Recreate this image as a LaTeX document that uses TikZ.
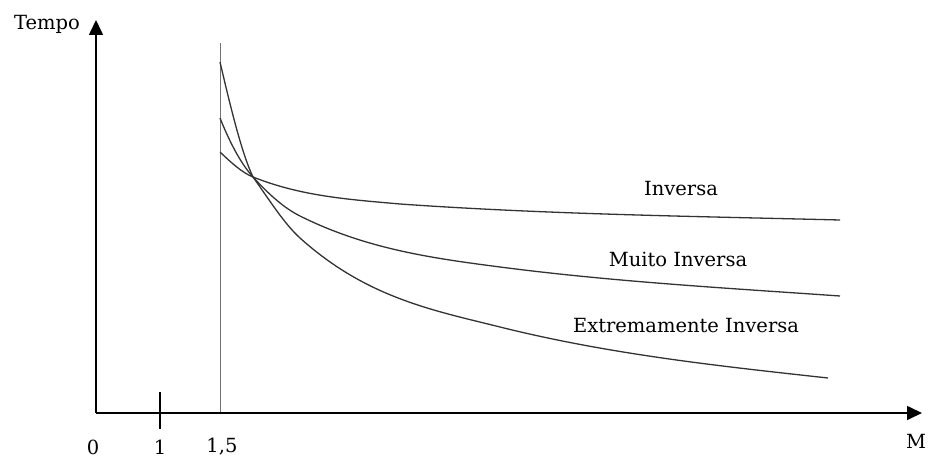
\documentclass[tikz,border=0pt]{standalone}
\usepackage{fontspec}
\setmainfont{DejaVu Serif}
\usetikzlibrary{arrows.meta}
\tikzset{
  axis/.style={line width=1.6pt, black, -{Triangle[length=15pt,width=14pt]}},
  curve/.style={line width=1.3pt, black!80},
  lbl/.style={font=\fontsize{19.5}{22}\selectfont, anchor=base, inner sep=0pt},
}
\begin{document}
\begin{tikzpicture}[x=1pt,y=-1pt]
\useasboundingbox (0,0) rectangle (928,460);
\coordinate (O) at (96,413);
\coordinate (Ytip) at (96,20);
\coordinate (Xtip) at (922,413);
\coordinate (T1a) at (160,392);
\coordinate (T1b) at (160,429);
\coordinate (Va) at (220,413);
\coordinate (Vb) at (220,43);
\draw[line width=1pt, black!55] (Va) -- (Vb);
\draw[axis] (O) -- (Ytip);
\draw[axis] (O) -- (Xtip);
\draw[line width=1.6pt] (T1a) -- (T1b);
% Extremamente Inversa
\coordinate (E0) at (220,62);
\coordinate (E1) at (253,177);
\coordinate (E2) at (300,238);
\coordinate (E3) at (500,327);
\coordinate (E4) at (828,378);
\draw[curve] (E0) .. controls (231,109) and (242,154) .. (E1)
  .. controls (268.7,199) and (284.3,223.9) .. (E2)
  .. controls (366.7,298) and (433.3,310.3) .. (E3)
  .. controls (609.3,354.3) and (718.7,366) .. (E4);
% Muito Inversa
\coordinate (M0) at (220,118);
\coordinate (M1) at (253,177);
\coordinate (M2) at (300,216);
\coordinate (M3) at (500,267);
\coordinate (M4) at (840,296);
\draw[curve] (M0) .. controls (231,145.5) and (242,164.9) .. (M1)
  .. controls (268.7,194.3) and (284.3,208.2) .. (M2)
  .. controls (366.7,249.3) and (433.3,258.3) .. (M3)
  .. controls (613.3,281.7) and (726.7,288.1) .. (M4);
% Inversa
\coordinate (I0) at (220,152);
\coordinate (I1) at (253,177);
\coordinate (I2) at (400,204);
\coordinate (I3) at (840,220);
\draw[curve] (I0) .. controls (231,162.5) and (242,172.6) .. (I1)
  .. controls (302,196.6) and (351,199.6) .. (I2)
  .. controls (546.7,214.3) and (693.3,216.3) .. (I3);
\node[lbl] (tempo) at (47,30) {Tempo};
\node[lbl] (l0) at (93,454) {0};
\node[lbl] (l1) at (160,454) {1};
\node[lbl] (l15) at (222,452) {1,5};
\node[lbl] (lM) at (916,448) {M};
\node[lbl] (inv) at (681,195) {Inversa};
\node[lbl] (mi) at (678,266) {Muito Inversa};
\node[lbl] (ei) at (686,332) {Extremamente Inversa};
\end{tikzpicture}
\end{document}
